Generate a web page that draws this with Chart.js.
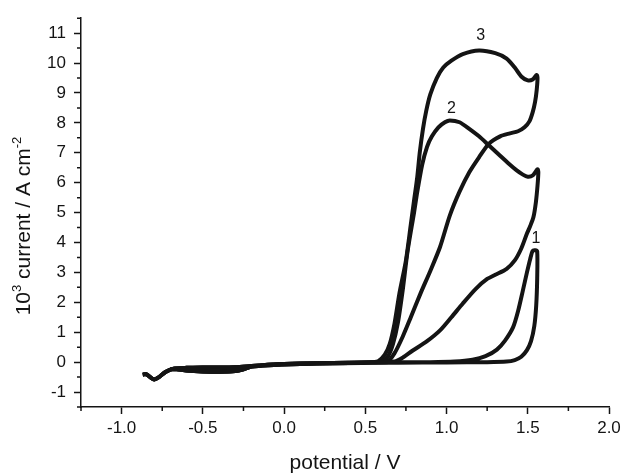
<!DOCTYPE html>
<html>
<head>
<meta charset="utf-8">
<script src="https://cdn.jsdelivr.net/npm/chart.js@4.4.0/dist/chart.umd.min.js"></script>
<style>
  body { margin: 0; background: #fff; }
  #wrap { width: 625px; height: 474px; }
</style>
</head>
<body>
<div id="wrap"><canvas id="cvChart"></canvas></div>
<script>
// axis ticks
const xTickValues = [-1.0, -0.5, 0.0, 0.5, 1.0, 1.5, 2.0];
const xTickLabels = ['-1.0', '-0.5', '0.0', '0.5', '1.0', '1.5', '2.0'];
const yTickValues = [-1, 0, 1, 2, 3, 4, 5, 6, 7, 8, 9, 10, 11];
const yTickLabels = ['-1', '0', '1', '2', '3', '4', '5', '6', '7', '8', '9', '10', '11'];

// shared baseline (low potential region)
const baseFwdX = [-0.87, -0.85, -0.82, -0.8, -0.77, -0.73, -0.68, -0.6, -0.5, -0.4, -0.3, -0.2, -0.1, 0.0, 0.2, 0.4, 0.55];
const baseFwdY = [-0.42, -0.4, -0.52, -0.58, -0.5, -0.33, -0.22, -0.19, -0.18, -0.18, -0.17, -0.13, -0.09, -0.06, -0.04, -0.02, 0.0];
const baseRetX = [0.5, 0.3, 0.1, -0.1, -0.2, -0.25, -0.3, -0.4, -0.5, -0.6, -0.66, -0.7];
const baseRetY = [-0.02, -0.04, -0.06, -0.1, -0.15, -0.24, -0.3, -0.32, -0.31, -0.28, -0.24, -0.23];

// curve 1
const c1X = [0.7, 0.9, 1.05, 1.16, 1.24, 1.31, 1.36, 1.41, 1.44, 1.47, 1.495, 1.515, 1.53, 1.545, 1.558, 1.558, 1.552, 1.54, 1.52, 1.495, 1.46, 1.42, 1.37, 1.25, 1.0, 0.7];
const c1Y = [0.0, 0.0, 0.02, 0.08, 0.2, 0.42, 0.72, 1.17, 1.7, 2.4, 3.0, 3.45, 3.72, 3.74, 3.7, 2.8, 1.9, 1.2, 0.7, 0.4, 0.18, 0.07, 0.02, 0.0, -0.01, -0.02];

// curve 2
const c2AnoX = [0.6, 0.64, 0.67, 0.7, 0.73, 0.76, 0.8, 0.82, 0.85, 0.88, 0.91, 0.95, 0.99, 1.02, 1.08, 1.14, 1.2, 1.26, 1.32, 1.38, 1.43, 1.47, 1.5, 1.53, 1.56];
const c2AnoY = [0.02, 0.2, 0.6, 1.3, 2.4, 3.7, 5.0, 5.7, 6.6, 7.2, 7.55, 7.85, 8.02, 8.08, 8.02, 7.8, 7.55, 7.25, 6.95, 6.65, 6.42, 6.27, 6.2, 6.24, 6.45];
const c2CatX = [1.565, 1.56, 1.55, 1.535, 1.515, 1.495, 1.46, 1.42, 1.37, 1.3, 1.25, 1.18, 1.1, 1.03, 0.96, 0.88, 0.79, 0.73, 0.68];
const c2CatY = [6.35, 5.9, 5.35, 4.85, 4.55, 4.3, 3.8, 3.4, 3.12, 2.92, 2.78, 2.45, 1.96, 1.5, 1.06, 0.7, 0.38, 0.15, 0.02];

// curve 3
const c3AnoX = [0.58, 0.62, 0.65, 0.68, 0.71, 0.75, 0.78, 0.8, 0.82, 0.835, 0.855, 0.875, 0.9, 0.94, 0.98, 1.03, 1.1, 1.2, 1.3, 1.37, 1.42, 1.46, 1.5, 1.53, 1.555];
const c3AnoY = [0.03, 0.25, 0.6, 1.3, 2.3, 3.4, 4.6, 5.4, 6.2, 7.0, 7.8, 8.4, 8.95, 9.5, 9.85, 10.08, 10.3, 10.42, 10.33, 10.15, 9.85, 9.55, 9.42, 9.45, 9.6];
const c3CatX = [1.56, 1.555, 1.545, 1.53, 1.51, 1.48, 1.44, 1.39, 1.33, 1.26, 1.2, 1.14, 1.08, 1.02, 0.96, 0.9, 0.84, 0.78, 0.73, 0.68, 0.64];
const c3CatY = [9.5, 9.1, 8.7, 8.35, 8.05, 7.85, 7.72, 7.65, 7.55, 7.3, 6.85, 6.35, 5.7, 4.9, 3.85, 3.05, 2.3, 1.5, 0.85, 0.3, 0.05];

// curve numbers
const curveNames = ['1', '2', '3'];
const nameX = [1.55, 1.03, 1.21];
const nameY = [4.13, 8.49, 10.92];

function pts(xs, ys) {
    return xs.map((x, i) => ({x: x, y: ys[i]}));
}

function loop(parts) {
    let out = [];
    parts.forEach(p => { out = out.concat(pts(p[0], p[1])); });
    return out;
}

const curve1 = loop([[baseFwdX, baseFwdY], [c1X, c1Y], [baseRetX, baseRetY]]);
const curve2 = loop([[baseFwdX, baseFwdY], [c2AnoX, c2AnoY], [c2CatX, c2CatY], [baseRetX, baseRetY]]);
const curve3 = loop([[baseFwdX, baseFwdY], [c3AnoX, c3AnoY], [c3CatX, c3CatY], [baseRetX, baseRetY]]);

const FONT = "'Liberation Sans', Arial, Helvetica, sans-serif";
const INK = '#141414';

// minor ticks, curve numbers, y title with superscripts
const extras = {
    id: 'extras',
    afterDraw(chart) {
        const ctx = chart.ctx;
        const xs = chart.scales.x, ys = chart.scales.y;
        ctx.save();
        ctx.strokeStyle = INK;
        ctx.lineWidth = 1.5;
        ctx.beginPath();
        for (let v = -1.25; v <= 2.0001; v += 0.5) {
            const px = xs.getPixelForValue(v);
            ctx.moveTo(px, xs.top);
            ctx.lineTo(px, xs.top + 4);
        }
        for (let v = -1.5; v <= 11.5001; v += 1) {
            const py = ys.getPixelForValue(v);
            ctx.moveTo(ys.right, py);
            ctx.lineTo(ys.right - 4, py);
        }
        ctx.stroke();

        ctx.fillStyle = INK;
        ctx.font = '16px ' + FONT;
        ctx.textAlign = 'center';
        ctx.textBaseline = 'middle';
        curveNames.forEach((n, i) => {
            ctx.fillText(n, xs.getPixelForValue(nameX[i]), ys.getPixelForValue(nameY[i]));
        });

        // y title
        const parts = [['10', false], ['3', true], [' current / A cm', false], ['-2', true]];
        const big = '21px ' + FONT, small = '13px ' + FONT;
        let total = 0;
        parts.forEach(p => { ctx.font = p[1] ? small : big; total += ctx.measureText(p[0]).width; });
        ctx.translate(22, 226);
        ctx.rotate(-Math.PI / 2);
        ctx.textAlign = 'left';
        ctx.textBaseline = 'alphabetic';
        let pos = -total / 2;
        parts.forEach(p => {
            ctx.font = p[1] ? small : big;
            ctx.fillText(p[0], pos, p[1] ? -1 : 7.5);
            pos += ctx.measureText(p[0]).width;
        });
        ctx.restore();
    }
};

function lineSet(label, data) {
    return {
        label: label,
        data: data,
        showLine: true,
        borderColor: INK,
        backgroundColor: INK,
        borderWidth: 4,
        pointRadius: 0,
        tension: 0.25,
        fill: false
    };
}

const ctx = document.getElementById('cvChart').getContext('2d');
new Chart(ctx, {
    type: 'scatter',
    data: {
        datasets: [lineSet('1', curve1), lineSet('2', curve2), lineSet('3', curve3)]
    },
    options: {
        responsive: true,
        maintainAspectRatio: false,
        animation: false,
        layout: { padding: { top: 15, right: 16, left: 0, bottom: 0 } },
        plugins: {
            legend: { display: false },
            tooltip: { enabled: false }
        },
        scales: {
            x: {
                type: 'linear',
                min: -1.25,
                max: 2.0,
                afterBuildTicks: s => { s.ticks = xTickValues.map(v => ({value: v})); },
                afterFit: s => { s.height = 67; },
                border: { color: INK, width: 1.5 },
                grid: { drawOnChartArea: false, drawTicks: true, tickLength: 7, tickColor: INK, tickWidth: 1.5 },
                ticks: {
                    color: INK,
                    padding: 4,
                    maxRotation: 0,
                    font: { family: FONT, size: 17 },
                    callback: (v, i) => xTickLabels[i]
                },
                title: {
                    display: true,
                    text: 'potential / V',
                    color: INK,
                    font: { family: FONT, size: 21, lineHeight: 1.0 },
                    padding: { top: 0, bottom: 0 }
                }
            },
            y: {
                type: 'linear',
                min: -1.5,
                max: 11.5,
                afterBuildTicks: s => { s.ticks = yTickValues.map(v => ({value: v})); },
                afterFit: s => { s.width = 81; },
                border: { color: INK, width: 1.5 },
                grid: { drawOnChartArea: false, drawTicks: true, tickLength: 7, tickColor: INK, tickWidth: 1.5 },
                ticks: {
                    color: INK,
                    padding: 8,
                    font: { family: FONT, size: 17 },
                    callback: (v, i) => yTickLabels[i]
                },
                title: { display: false }
            }
        }
    },
    plugins: [extras]
});
</script>
</body>
</html>
